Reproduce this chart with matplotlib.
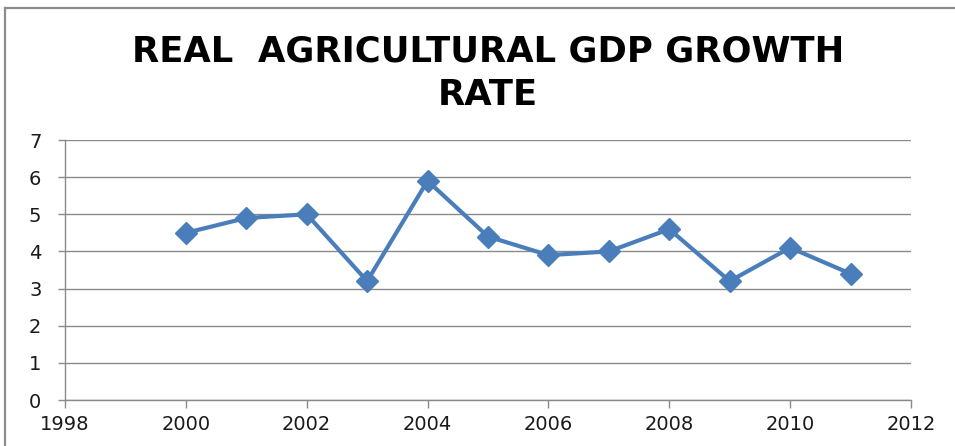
import matplotlib
matplotlib.use("Agg")
import matplotlib.pyplot as plt
from matplotlib.lines import Line2D

# ── data ─────────────────────────────────────────────
years = [2000, 2001, 2002, 2003, 2004, 2005, 2006, 2007, 2008, 2009, 2010, 2011]
growth = [4.5, 4.9, 5.0, 3.2, 5.9, 4.4, 3.9, 4.0, 4.6, 3.2, 4.1, 3.4]
x_ticks = [1998, 2000, 2002, 2004, 2006, 2008, 2010, 2012]
y_ticks = [0, 1, 2, 3, 4, 5, 6, 7]
title = "REAL  AGRICULTURAL GDP GROWTH\nRATE"

W, H = 955, 446
fig = plt.figure(figsize=(W / 100, H / 100), dpi=100)
fig.patch.set_facecolor("white")

# chart frame (only left/top edges visible in the crop)
frame_col = "#8c8c8c"
fig.add_artist(Line2D([5 / W, 5 / W], [0, 1 - 8 / H], transform=fig.transFigure, color=frame_col, lw=1.6))
fig.add_artist(Line2D([5 / W, 1], [1 - 8 / H, 1 - 8 / H], transform=fig.transFigure, color=frame_col, lw=1.6))

left, right, top, bottom = 65, 911, 140, 400
ax = fig.add_axes([left / W, 1 - bottom / H, (right - left) / W, (bottom - top) / H])

ax.plot(years, growth, color="#4a7ebb", lw=3, marker="D", markersize=11,
        markerfacecolor="#4a7ebb", markeredgecolor="#4a7ebb", zorder=3)

ax.set_xlim(1998, 2012)
ax.set_ylim(0, 7)
ax.set_xticks(x_ticks)
ax.set_yticks(y_ticks)
ax.grid(axis="y", color="#8a8a8a", lw=1)
ax.set_axisbelow(True)

for s in ("top", "right"):
    ax.spines[s].set_visible(False)
for s in ("left", "bottom"):
    ax.spines[s].set_color("#8a8a8a")
    ax.spines[s].set_linewidth(1)

ax.tick_params(axis="both", colors="#8a8a8a", labelcolor="#1a1a1a", width=1)
ax.tick_params(axis="x", length=6, pad=5)
ax.tick_params(axis="y", length=5, pad=12)
for lab in ax.get_xticklabels() + ax.get_yticklabels():
    lab.set_fontfamily("DejaVu Sans")
    lab.set_fontsize(14)

fig.text(488 / W, 1 - 73 / H, title, ha="center", va="center", fontsize=25.5,
         fontweight="bold", family=["DejaVu Sans"], linespacing=1.35)

fig.savefig("out.png", dpi=100, facecolor="white")
